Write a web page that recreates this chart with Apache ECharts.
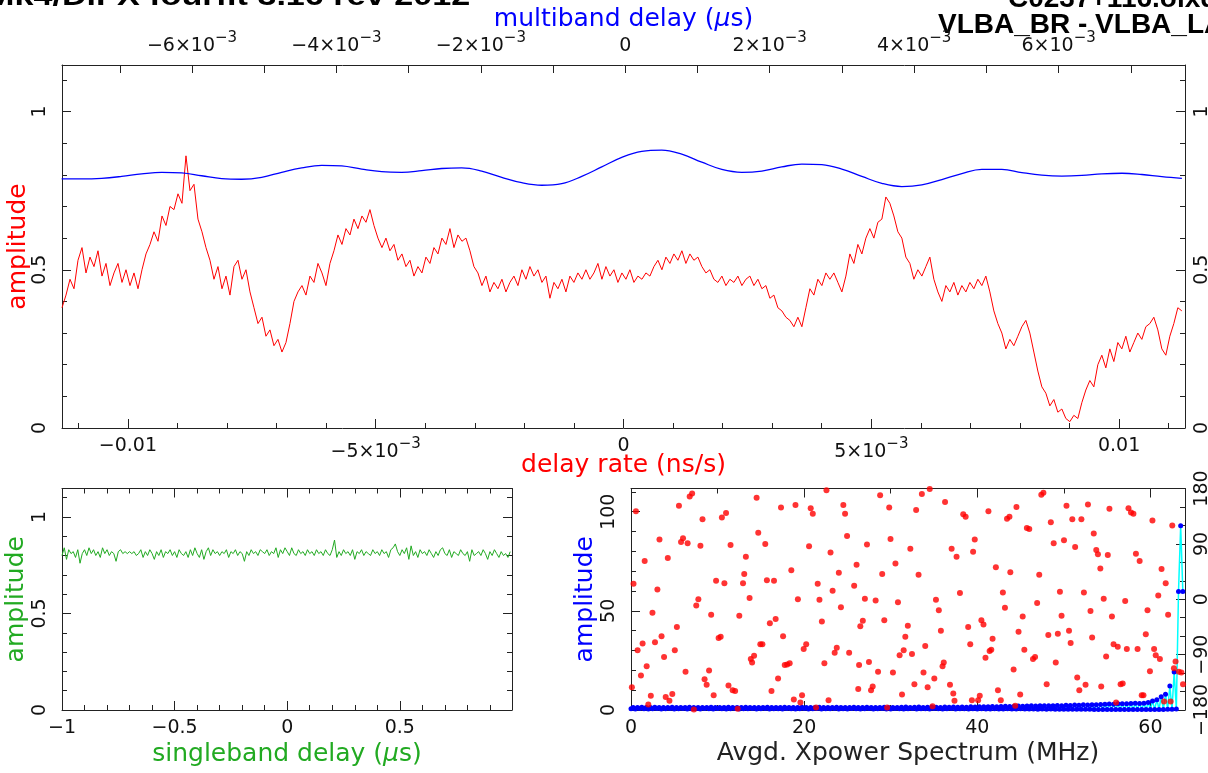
<!DOCTYPE html>
<html><head><meta charset="utf-8">
<script src="https://cdn.jsdelivr.net/npm/echarts@6/dist/echarts.min.js"></script>
<style>html,body{margin:0;padding:0;background:#fff}#c{width:1208px;height:773px}</style>
</head><body><div id="c"></div>
<script>
// ---------------- DATA ----------------
// delay-rate amplitude (red), sampled evenly from RATE_START with RATE_STEP
const rateAmp = [
0.38,0.42,0.47,0.44,0.53,0.57,0.49,0.54,0.51,0.56,
0.48,0.52,0.45,0.49,0.52,0.46,0.50,0.45,0.49,0.44,
0.50,0.55,0.58,0.62,0.59,0.67,0.64,0.70,0.69,0.74,
0.71,0.86,0.75,0.77,0.66,0.62,0.57,0.53,0.47,0.51,
0.44,0.48,0.42,0.51,0.53,0.47,0.50,0.43,0.38,0.33,
0.35,0.29,0.31,0.26,0.28,0.24,0.27,0.33,0.40,0.43,
0.45,0.42,0.48,0.46,0.52,0.49,0.45,0.52,0.56,0.61,
0.58,0.63,0.61,0.66,0.63,0.67,0.65,0.69,0.64,0.60,
0.57,0.60,0.56,0.58,0.53,0.55,0.51,0.53,0.48,0.51,
0.49,0.54,0.52,0.57,0.55,0.60,0.58,0.63,0.57,0.61,
0.59,0.60,0.56,0.51,0.49,0.45,0.48,0.43,0.46,0.44,
0.47,0.43,0.46,0.48,0.45,0.50,0.47,0.51,0.48,0.50,
0.46,0.48,0.41,0.46,0.44,0.47,0.43,0.48,0.46,0.49,
0.47,0.50,0.47,0.49,0.52,0.47,0.51,0.48,0.50,0.46,
0.49,0.47,0.50,0.46,0.48,0.47,0.49,0.48,0.51,0.53,
0.50,0.54,0.52,0.55,0.53,0.56,0.52,0.55,0.53,0.54,
0.51,0.49,0.50,0.47,0.46,0.48,0.45,0.47,0.46,0.48,
0.45,0.47,0.48,0.45,0.47,0.44,0.45,0.41,0.42,0.38,
0.37,0.35,0.34,0.32,0.35,0.32,0.38,0.44,0.42,0.47,
0.45,0.49,0.47,0.49,0.46,0.43,0.48,0.55,0.52,0.58,
0.55,0.60,0.63,0.60,0.65,0.66,0.73,0.71,0.67,0.62,
0.60,0.54,0.52,0.47,0.50,0.48,0.51,0.54,0.47,0.43,
0.40,0.45,0.43,0.46,0.42,0.45,0.43,0.46,0.44,0.47,
0.45,0.48,0.43,0.37,0.33,0.30,0.25,0.28,0.26,0.29,
0.32,0.34,0.30,0.24,0.18,0.13,0.11,0.07,0.09,0.05,
0.06,0.03,0.02,0.04,0.03,0.08,0.12,0.15,0.13,0.20,
0.23,0.19,0.25,0.21,0.27,0.25,0.29,0.24,0.27,0.30,
0.28,0.32,0.33,0.35,0.31,0.25,0.23,0.29,0.33,0.38,
0.37];
const RATE_START = -0.01133, RATE_STEP = 8.07e-5;

// multiband delay amplitude (blue), sampled evenly from MBD_START with MBD_STEP
const mbdAmp = [
0.787,0.787,0.789,0.795,0.803,0.808,0.806,0.797,0.788,0.786,
0.792,0.808,0.822,0.830,0.828,0.818,0.810,0.808,0.813,0.820,
0.822,0.812,0.792,0.775,0.767,0.772,0.795,0.825,0.855,0.874,
0.878,0.865,0.840,0.817,0.808,0.812,0.825,0.834,0.832,0.818,
0.795,0.773,0.763,0.768,0.785,0.804,0.817,0.817,0.807,0.799,
0.796,0.798,0.803,0.805,0.801,0.794,0.789];
const MBD_START = -0.007805, MBD_STEP = 0.000277;

// singleband delay amplitude (green), from -1 us in steps of 0.01 us
const sbdAmp = [
0.80,0.84,0.78,0.83,0.81,0.82,0.79,0.83,0.76,0.81,
0.83,0.80,0.84,0.81,0.83,0.80,0.82,0.79,0.84,0.81,
0.83,0.80,0.82,0.81,0.77,0.82,0.83,0.81,0.82,0.81,
0.82,0.81,0.82,0.80,0.81,0.83,0.79,0.82,0.80,0.83,
0.81,0.78,0.82,0.80,0.83,0.79,0.82,0.81,0.83,0.80,
0.82,0.79,0.83,0.81,0.80,0.82,0.79,0.83,0.80,0.84,
0.81,0.79,0.83,0.78,0.82,0.84,0.80,0.83,0.81,0.82,
0.80,0.82,0.81,0.83,0.79,0.82,0.81,0.83,0.80,0.82,
0.81,0.77,0.82,0.80,0.83,0.81,0.82,0.80,0.83,0.82,
0.81,0.83,0.80,0.82,0.81,0.84,0.79,0.83,0.81,0.84,
0.82,0.80,0.84,0.81,0.80,0.83,0.81,0.82,0.80,0.83,
0.81,0.82,0.80,0.83,0.81,0.82,0.80,0.83,0.81,0.80,
0.83,0.88,0.79,0.82,0.80,0.83,0.81,0.82,0.80,0.83,
0.78,0.82,0.81,0.83,0.80,0.82,0.81,0.80,0.83,0.81,
0.82,0.80,0.83,0.81,0.82,0.79,0.83,0.84,0.86,0.82,
0.80,0.83,0.81,0.84,0.78,0.85,0.80,0.82,0.79,0.83,
0.81,0.82,0.80,0.83,0.81,0.79,0.82,0.80,0.83,0.84,
0.81,0.80,0.83,0.79,0.82,0.81,0.80,0.83,0.81,0.80,
0.82,0.77,0.83,0.80,0.81,0.82,0.80,0.83,0.81,0.78,
0.82,0.80,0.83,0.81,0.79,0.82,0.80,0.81,0.79,0.82];
const SBD_START = -1, SBD_STEP = 0.01;

// cross-power spectrum amplitude (blue dots, cyan line), 256 channels every 0.25 MHz
const specAmp = [
0.6,1.3,0.5,1.2,0.7,1.4,0.6,1.3,0.5,1.2,
0.6,1.4,0.7,1.3,0.5,1.2,0.6,1.3,0.7,1.4,
0.5,1.3,0.6,1.2,0.7,1.3,0.5,1.4,0.6,1.2,
0.6,1.3,0.5,1.3,0.7,1.2,0.6,1.4,0.5,1.3,
0.7,1.2,0.6,1.3,0.5,1.4,0.6,1.3,0.7,1.2,
0.5,1.3,0.6,1.4,0.6,1.2,0.7,1.3,0.5,1.3,
0.6,1.2,0.7,1.4,0.5,1.3,0.6,1.3,0.6,1.2,
0.5,1.4,0.7,1.3,0.6,1.2,0.5,1.3,0.6,1.4,
0.7,1.3,0.5,1.2,0.6,1.3,0.7,1.4,0.5,1.3,
0.6,1.2,0.6,1.3,0.7,1.4,0.5,1.3,0.6,1.2,
0.5,1.3,0.7,1.4,0.6,1.3,0.5,1.2,0.6,1.4,
0.7,1.3,0.5,1.3,0.6,1.2,0.7,1.4,0.5,1.3,
0.5,1.3,0.7,1.2,0.6,1.4,
0.5,1.5,0.6,1.3,0.7,1.4,0.5,1.5,0.6,1.3,
0.6,1.4,0.5,1.5,0.7,1.4,0.6,1.3,0.5,1.5,
0.6,1.4,0.7,1.5,0.5,1.4,0.6,1.5,0.6,1.4,
0.5,1.6,0.6,1.5,0.5,1.7,0.6,1.6,0.5,1.7,
0.5,1.8,0.6,1.7,0.5,1.8,0.5,1.9,0.6,1.8,
0.5,1.9,0.5,2.0,0.6,1.9,0.5,2.0,0.5,2.1,
0.5,2.0,0.4,2.1,0.5,2.2,0.4,2.1,0.5,2.2,
0.4,2.3,0.4,2.2,0.4,2.4,0.4,2.3,0.4,2.5,
0.4,2.4,0.4,2.6,0.4,2.5,0.4,2.7,0.3,2.6,
0.3,2.8,0.3,2.9,0.3,3.0,0.3,2.9,0.3,3.1,
0.3,3.2,0.3,3.1,0.3,3.3,0.3,3.4,0.3,3.3,
0.3,3.4,0.3,3.8,0.3,4.5,0.3,5.2,0.3,6.7,
0.3,8.0,0.4,12.1,0.4,19.2,0.5,59.7,92.9,59.7];
const SPEC_STEP = 0.25;

// cross-power spectrum phase (red dots): [MHz, degrees]
const specPhase = [
[0.1,-143],[0.29,25],[0.57,143],[0.76,-83],[1.15,-124],[1.34,-72],[1.58,62],[1.81,-109],[2.0,-171],[2.29,-157],
[2.48,-22],[2.77,-70],[3.05,16],[3.29,97],[3.53,-60],[3.82,-94],[4.01,-159],[4.25,67],[4.44,-165],[4.77,-154],
[5.06,-83],[5.3,-45],[5.54,152],[5.78,93],[6.01,99],[6.3,-118],[6.54,91],[6.78,167],[7.06,172],[7.26,-179],
[7.54,-10],[7.78,0],[8.02,87],[8.26,130],[8.5,-130],[8.74,-139],[9.02,-116],[9.26,-25],[9.55,-156],[9.83,30],
[10.12,-63],[10.36,-61],[10.5,133],[10.79,26],[10.98,140],[11.26,-140],[11.5,88],[11.74,-148],[12.03,-149],[12.32,-178],
[12.51,-27],[12.94,26],[13.08,41],[13.27,69],[13.7,2],[13.84,-97],[13.99,-103],[14.22,-92],[14.51,165],[14.7,108],
[14.94,-73],[15.18,-73],[15.51,90],[15.7,31],[16.04,-39],[16.23,-149],[16.52,30],[16.71,-32],[16.99,-129],[17.33,149],
[17.57,-60],[17.76,-107],[18.04,-106],[18.33,-104],[18.52,47],[18.81,-163],[19.0,153],[19.28,0],[19.57,-168],[19.76,-156],
[19.95,-81],[20.24,-73],[20.57,86],[20.76,148],[21.0,139],[21.38,-176],[21.57,25],[21.77,-1],[22.05,-36],[22.34,-104],
[22.58,177],[22.82,-164],[23.05,76],[23.29,14],[23.53,-87],[23.77,-79],[24.01,43],[24.25,-13],[24.53,153],[24.73,139],
[24.96,103],[25.2,-87],[25.78,22],[26.06,56],[26.25,-146],[26.35,-107],[26.49,-44],[26.78,-35],[27.02,1],[27.26,89],
[27.49,-102],[27.73,-148],[27.92,-142],[28.26,-2],[28.54,-118],[28.78,169],[29.02,41],[29.26,-34],[29.59,-176],[29.83,149],
[29.98,98],[30.26,-119],[30.55,58],[30.84,-5],[31.03,-91],[31.31,-155],[31.5,-83],[31.69,-61],[31.98,-43],[32.27,82],
[32.46,-89],[32.74,-138],[32.94,145],[33.22,40],[33.6,171],[33.79,-119],[33.99,-76],[34.27,-143],[34.51,179],[34.84,-174],
[35.04,-129],[35.23,-1],[35.56,-18],[35.8,-51],[35.99,-109],[36.13,-103],[36.28,158],[36.85,-139],[37.04,82],[37.23,-153],
[37.37,-165],[37.61,69],[38.0,10],[38.38,138],[38.66,134],[38.95,-45],[39.19,-73],[39.38,-164],[39.52,77],[39.71,97],
[40.1,-164],[40.29,-157],[40.48,-34],[40.72,-41],[40.95,-95],[41.29,143],[41.43,-84],[41.62,-82],[41.77,-64],[42.15,52],
[42.39,-148],[42.72,-164],[42.96,11],[43.2,-14],[43.44,131],[43.72,134],[43.82,44],[44.2,-114],[44.39,-173],[44.53,150],
[44.77,-53],[44.96,-155],[45.25,-28],[45.44,-82],[45.73,116],[46.01,114],[46.44,-97],[46.68,-94],[46.92,-6],[47.16,40],
[47.4,170],[47.64,173],[48.02,-138],[48.21,-58],[48.5,125],[48.83,91],[49.07,-103],[49.31,-56],[49.55,12],[49.74,-27],
[50.02,96],[50.31,152],[50.6,-51],[50.79,-71],[50.98,130],[51.31,85],[51.55,-127],[51.79,-148],[52.03,130],[52.32,11],
[52.51,-139],[52.79,154],[53.08,-19],[53.27,-62],[53.46,107],[53.75,80],[53.94,73],[54.22,50],[54.32,-142],[54.61,1],
[54.89,-93],[55.08,72],[55.27,147],[55.56,-28],[55.75,-73],[56.04,-168],[56.23,-77],[56.56,-138],[56.8,-137],[57.09,-3],
[57.28,-81],[57.47,148],[57.76,141],[58.04,139],[58.33,74],[58.52,-81],[58.76,62],[59.0,-156],[59.2,-156],[59.47,-57],
[59.67,-18],[59.95,-117],[60.24,128],[60.43,-81],[60.62,-91],[60.91,6],[61.1,-97],[61.29,49],[61.58,-166],[61.77,26],
[62.05,-25],[62.34,-166],[62.53,120],[62.72,-112],[62.91,-101],[63.29,-118],[63.58,-119],[63.77,-138]];

// axis tick label values
const rateLabels = [-0.01, -0.005, 0, 0.005, 0.01];
const mbdLabels = [-0.006, -0.004, -0.002, 0, 0.002, 0.004, 0.006];
const ampLabels = [0, 0.5, 1];
const sbdLabels = [-1, -0.5, 0, 0.5];
const freqLabels = [0, 20, 40, 60];
const specAmpLabels = [0, 50, 100];
const phaseLabels = [-180, -90, 0, 90, 180];

// ---------------- BUILD ----------------
const FONT = 'DejaVu Sans';
const AXC = '#222';
const RED = '#ff0000', BLUE = '#0000ff', GREEN = '#22aa22', CYAN = '#00ffff';

function range(a, b, step) {
  const n = Math.round((b - a) / step), out = [];
  for (let i = 0; i <= n; i++) out.push(+(a + i * step).toFixed(8));
  return out;
}
const M = '\u2212';
function sciLabel(v) {
  if (Math.abs(v) < 1e-12) return '0';
  const n = Math.round(v * 1000);
  if (Math.abs(n) === 10) return (n < 0 ? M : '') + '0.01';
  return '{m|' + (n < 0 ? M : '') + Math.abs(n) + '\u00d710}{e|' + M + '3}';
}
function numLabel(v) { return (v < 0 ? M : '') + String(Math.abs(v)); }

const RICH = {
  m: {fontFamily: FONT, fontSize: 19, color: '#111', verticalAlign: 'bottom'},
  e: {fontFamily: FONT, fontSize: 15, color: '#111', verticalAlign: 'bottom', padding: [0, 0, 10, 0]}
};

function axis(p) {
  const a = {
    type: 'value', gridIndex: p.grid, position: p.pos, min: p.min, max: p.max,
    splitLine: {show: false},
    axisLine: {show: p.line !== false, onZero: false, lineStyle: {color: AXC, width: 1}},
    axisTick: {show: true, inside: true, length: p.len || 9, customValues: p.ticks, lineStyle: {color: AXC, width: 1}},
    axisLabel: {show: false},
    minorTick: {show: false}
  };
  if (p.labels) {
    a.axisLabel = {show: true, customValues: p.labels, formatter: p.fmt || numLabel,
      rotate: p.rotate || 0, margin: p.margin == null ? 8 : p.margin,
      color: '#111', fontFamily: FONT, fontSize: 19, rich: RICH, hideOverlap: false};
  }
  if (p.name) {
    a.name = p.name; a.nameLocation = 'middle'; a.nameGap = p.nameGap; a.nameMoveOverlap = false;
    a.nameTextStyle = {color: p.nameColor, fontFamily: FONT, fontSize: 25,
      rich: {t: {color: p.nameColor, fontFamily: FONT, fontSize: 25},
             i: {color: p.nameColor, fontFamily: FONT, fontSize: 25, fontStyle: 'italic'}}};
  }
  return a;
}

const RATE_MIN = -0.01133, RATE_MAX = 0.01133;
const MBD_MIN = -0.0078, MBD_MAX = 0.00775;
const AMP_MAX = 1.147;
const SBD_MIN = -1, SBD_MAX = 0.998;
const F_MIN = 0, F_MAX = 64;
const SA_MAX = 111.7;

const xAxes = [
  // grid 0
  axis({grid: 0, pos: 'bottom', min: RATE_MIN, max: RATE_MAX, ticks: rateLabels, labels: rateLabels, fmt: sciLabel, margin: 9,
        name: 'delay rate (ns/s)', nameColor: RED, nameGap: 25}),
  axis({grid: 0, pos: 'bottom', min: RATE_MIN, max: RATE_MAX, ticks: range(-0.011, 0.011, 0.001), len: 5, line: false}),
  axis({grid: 0, pos: 'top', min: MBD_MIN, max: MBD_MAX, ticks: range(-0.007, 0.007, 0.001), len: 8, labels: mbdLabels, fmt: sciLabel, margin: 9,
        name: '{t|multiband delay (}{i|\u03bc}{t|s)}', nameColor: BLUE, nameGap: 33}),
  // grid 1
  axis({grid: 1, pos: 'bottom', min: SBD_MIN, max: SBD_MAX, ticks: sbdLabels, labels: sbdLabels, margin: 9,
        name: '{t|singleband delay (}{i|\u03bc}{t|s)}', nameColor: GREEN, nameGap: 32}),
  axis({grid: 1, pos: 'bottom', min: SBD_MIN, max: SBD_MAX, ticks: range(-0.9, 0.9, 0.1), len: 5, line: false}),
  axis({grid: 1, pos: 'top', min: SBD_MIN, max: SBD_MAX, ticks: sbdLabels, len: 9}),
  axis({grid: 1, pos: 'top', min: SBD_MIN, max: SBD_MAX, ticks: range(-0.9, 0.9, 0.1), len: 5, line: false}),
  // grid 2
  axis({grid: 2, pos: 'bottom', min: F_MIN, max: F_MAX, ticks: freqLabels, labels: freqLabels, margin: 9,
        name: 'Avgd. Xpower Spectrum (MHz)', nameColor: '#222', nameGap: 31}),
  axis({grid: 2, pos: 'bottom', min: F_MIN, max: F_MAX, ticks: range(10, 50, 20), len: 5, line: false}),
  axis({grid: 2, pos: 'top', min: F_MIN, max: F_MAX, ticks: freqLabels, len: 9}),
  axis({grid: 2, pos: 'top', min: F_MIN, max: F_MAX, ticks: range(10, 50, 20), len: 5, line: false})
];

const yAxes = [
  // grid 0
  axis({grid: 0, pos: 'left', min: 0, max: AMP_MAX, ticks: ampLabels, labels: ampLabels, rotate: 90, margin: 12,
        name: 'amplitude', nameColor: RED, nameGap: 31}),
  axis({grid: 0, pos: 'left', min: 0, max: AMP_MAX, ticks: range(0.1, 1.1, 0.1), len: 5, line: false}),
  axis({grid: 0, pos: 'right', min: 0, max: AMP_MAX, ticks: ampLabels, labels: ampLabels, rotate: 90, margin: 8}),
  axis({grid: 0, pos: 'right', min: 0, max: AMP_MAX, ticks: range(0.1, 1.1, 0.1), len: 5, line: false}),
  // grid 1
  axis({grid: 1, pos: 'left', min: 0, max: AMP_MAX, ticks: ampLabels, labels: ampLabels, rotate: 90, margin: 12,
        name: 'amplitude', nameColor: GREEN, nameGap: 33}),
  axis({grid: 1, pos: 'left', min: 0, max: AMP_MAX, ticks: range(0.1, 1.1, 0.1), len: 5, line: false}),
  axis({grid: 1, pos: 'right', min: 0, max: AMP_MAX, ticks: ampLabels, len: 9}),
  axis({grid: 1, pos: 'right', min: 0, max: AMP_MAX, ticks: range(0.1, 1.1, 0.1), len: 5, line: false}),
  // grid 2
  axis({grid: 2, pos: 'left', min: 0, max: SA_MAX, ticks: specAmpLabels, labels: specAmpLabels, rotate: 90, margin: 12,
        name: 'amplitude', nameColor: BLUE, nameGap: 33}),
  axis({grid: 2, pos: 'left', min: 0, max: SA_MAX, ticks: range(10, 110, 10), len: 5, line: false}),
  axis({grid: 2, pos: 'right', min: -180, max: 180, ticks: phaseLabels, labels: phaseLabels, rotate: 90, margin: 8}),
  axis({grid: 2, pos: 'right', min: -180, max: 180, ticks: range(-150, 150, 30), len: 5, line: false})
];

const rateData = rateAmp.map((v, i) => [RATE_START + i * RATE_STEP, v]);
const mbdData = mbdAmp.map((v, i) => [MBD_START + i * MBD_STEP, v]);
const sbdData = sbdAmp.map((v, i) => [SBD_START + i * SBD_STEP, v]);
const specData = specAmp.map((v, i) => [i * SPEC_STEP, v]);

const option = {
  animation: false,
  backgroundColor: '#fff',
  grid: [
    {left: 62, top: 65, width: 1123, height: 363, containLabel: false, outerBoundsMode: 'none'},
    {left: 62, top: 488.5, width: 450, height: 221.5, containLabel: false, outerBoundsMode: 'none'},
    {left: 631, top: 488.5, width: 554, height: 221.5, containLabel: false, outerBoundsMode: 'none'}
  ],
  xAxis: xAxes,
  yAxis: yAxes,
  series: [
    {type: 'line', xAxisIndex: 0, yAxisIndex: 0, data: rateData, symbol: 'none',
     lineStyle: {color: RED, width: 1}, z: 3},
    {type: 'line', xAxisIndex: 2, yAxisIndex: 0, data: mbdData, symbol: 'none', smooth: 0.4,
     lineStyle: {color: BLUE, width: 1.3}, z: 4},
    {type: 'line', xAxisIndex: 3, yAxisIndex: 4, data: sbdData, symbol: 'none',
     lineStyle: {color: GREEN, width: 1}},
    {type: 'line', xAxisIndex: 7, yAxisIndex: 8, data: specData, symbol: 'circle', symbolSize: 5,
     showAllSymbol: true, itemStyle: {color: BLUE}, lineStyle: {color: CYAN, width: 1.5}, z: 3},
    {type: 'scatter', xAxisIndex: 7, yAxisIndex: 10, data: specPhase, symbol: 'circle', symbolSize: 6,
     itemStyle: {color: RED}, z: 4}
  ],
  graphic: [
    {type: 'text', x: -14, y: -3, scaleX: 1.22,
     style: {text: 'Mk4/DiFX fourfit 3.16 rev 2012', font: 'bold 28px "Liberation Sans"', fill: '#000', verticalAlign: 'middle'}},
    {type: 'text', x: 1008, y: -1,
     style: {text: 'C0237+116.olxqzt', font: 'bold 28px "Liberation Sans"', fill: '#000', verticalAlign: 'middle'}},
    {type: 'text', x: 938, y: 25,
     style: {text: 'VLBA_BR - VLBA_LA', font: 'bold 28px "Liberation Sans"', fill: '#000', verticalAlign: 'middle'}}
  ]
};

const chart = echarts.init(document.getElementById('c'), null, {renderer: 'canvas'});
chart.setOption(option);
</script>
</body></html>
